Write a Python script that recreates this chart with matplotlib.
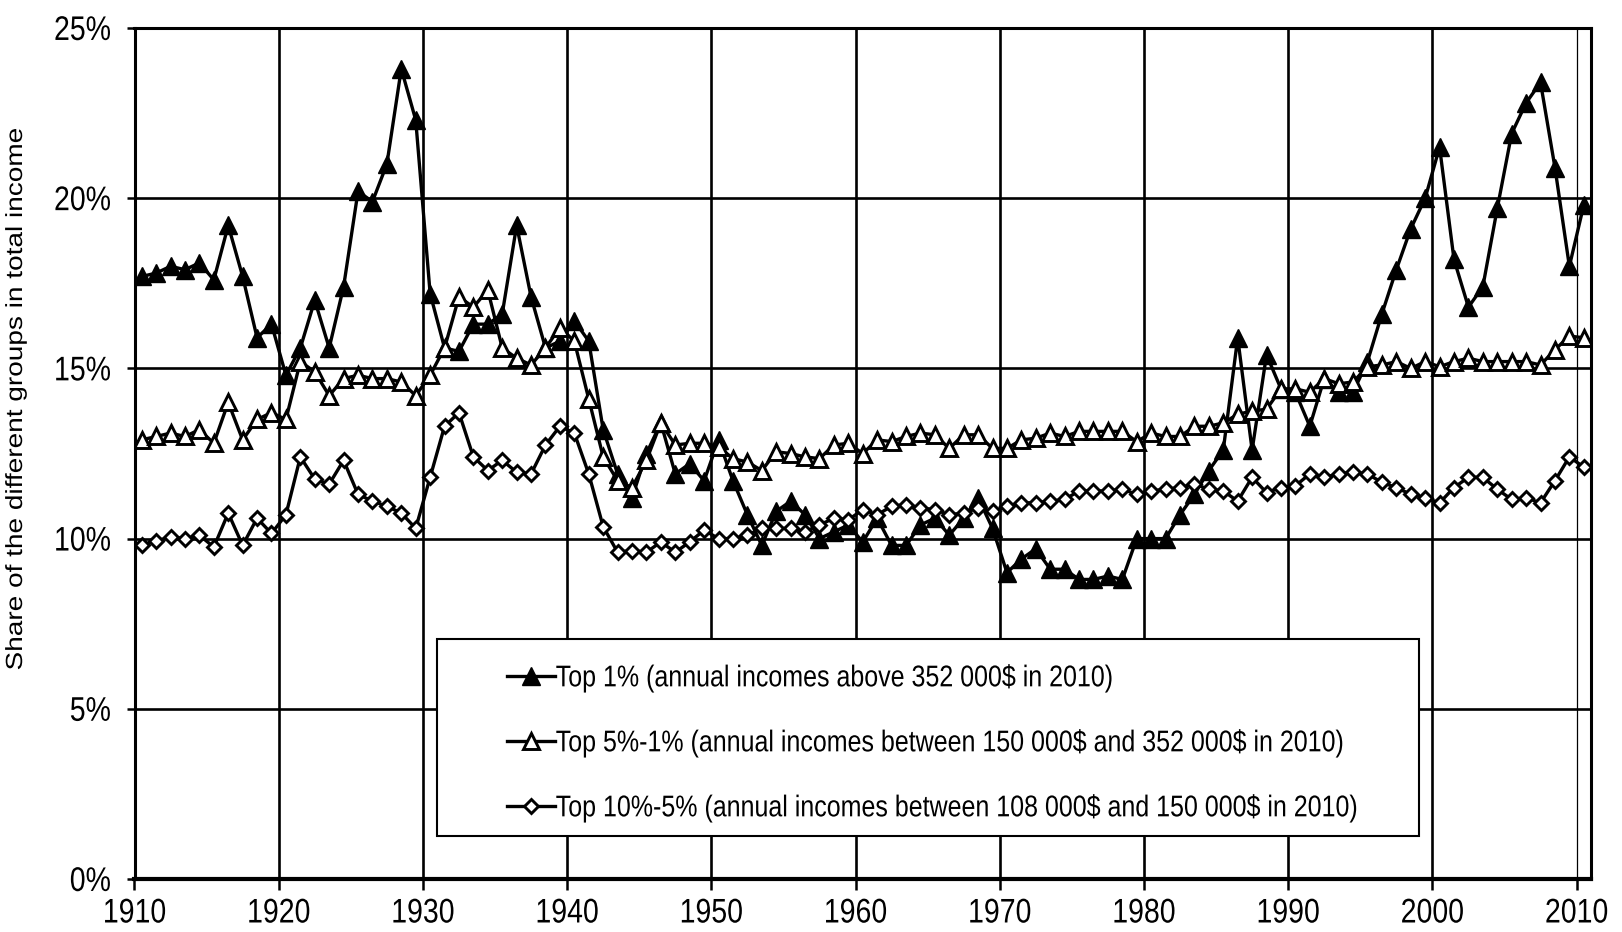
import matplotlib
matplotlib.use("Agg")
import matplotlib.pyplot as plt
from matplotlib.patches import Rectangle
from matplotlib.patheffects import AbstractPathEffect
from matplotlib.transforms import Affine2D
import numpy as np

years = list(range(1910, 2011))

top1 = [17.7, 17.8, 18.0, 17.9, 18.1, 17.6, 19.2, 17.7, 15.9, 16.3,
        14.8, 15.6, 17.0, 15.6, 17.4, 20.2, 19.9, 21.0, 23.8, 22.3,
        17.2, 15.6, 15.5, 16.3, 16.3, 16.6, 19.2, 17.1, 15.6, 15.8,
        16.4, 15.8, 13.2, 11.9, 11.2, 12.5, 13.4, 11.9, 12.2, 11.7,
        12.9, 11.7, 10.7, 9.8, 10.8, 11.1, 10.7, 10.0, 10.2, 10.4,
        9.9, 10.6, 9.8, 9.8, 10.4, 10.6, 10.1, 10.6, 11.2, 10.3,
        9.0, 9.4, 9.7, 9.1, 9.1, 8.8, 8.8, 8.9, 8.8, 10.0,
        10.0, 10.0, 10.7, 11.3, 12.0, 12.6, 15.9, 12.6, 15.4, 14.4,
        14.3, 13.3, 14.7, 14.3, 14.3, 15.2, 16.6, 17.9, 19.1, 20.0,
        21.5, 18.2, 16.8, 17.4, 19.7, 21.9, 22.8, 23.4, 20.9, 18.0,
        19.8]

top5_1 = [12.9, 13.0, 13.1, 13.0, 13.2, 12.8, 14.0, 12.9, 13.5, 13.7,
          13.5, 15.2, 14.9, 14.2, 14.7, 14.8, 14.7, 14.7, 14.6, 14.2,
          14.8, 15.6, 17.1, 16.8, 17.3, 15.6, 15.3, 15.1, 15.6, 16.2,
          15.8, 14.1, 12.4, 11.7, 11.5, 12.3, 13.4, 12.75, 12.8, 12.8,
          12.7, 12.35, 12.25, 12.0, 12.55, 12.5, 12.4, 12.35, 12.75, 12.8,
          12.5, 12.9, 12.85, 13.0, 13.1, 13.05, 12.65, 13.05, 13.05, 12.65,
          12.65, 12.9, 12.95, 13.1, 13.0, 13.15, 13.15, 13.15, 13.15, 12.85,
          13.1, 13.0, 13.0, 13.3, 13.3, 13.4, 13.65, 13.75, 13.8, 14.4,
          14.4, 14.3, 14.7, 14.55, 14.6, 15.05, 15.1, 15.2, 15.0, 15.2,
          15.05, 15.2, 15.3, 15.2, 15.2, 15.2, 15.2, 15.1, 15.55, 15.95,
          15.9]

top10_5 = [9.8, 9.93, 10.05, 10.0, 10.1, 9.75, 10.75, 9.8, 10.6, 10.15,
           10.7, 12.4, 11.75, 11.6, 12.3, 11.3, 11.1, 10.95, 10.75, 10.3,
           11.8, 13.3, 13.7, 12.4, 12.0, 12.3, 11.95, 11.9, 12.75, 13.3,
           13.1, 11.9, 10.35, 9.6, 9.65, 9.6, 9.9, 9.6, 9.9, 10.25,
           10.0, 10.0, 10.1, 10.3, 10.3, 10.3, 10.2, 10.4, 10.6, 10.55,
           10.85, 10.7, 10.95, 11.0, 10.9, 10.85, 10.7, 10.75, 10.9, 10.8,
           10.95, 11.05, 11.05, 11.1, 11.15, 11.4, 11.4, 11.4, 11.45, 11.3,
           11.4, 11.45, 11.5, 11.6, 11.45, 11.4, 11.1, 11.8, 11.35, 11.5,
           11.55, 11.9, 11.8, 11.9, 11.95, 11.9, 11.65, 11.5, 11.3, 11.2,
           11.05, 11.5, 11.8, 11.8, 11.45, 11.15, 11.2, 11.05, 11.7, 12.4,
           12.1]

labels = ["Top 1% (annual incomes above 352 000\\$ in 2010)",
          "Top 5%-1% (annual incomes between 150 000\\$ and 352 000\\$ in 2010)",
          "Top 10%-5% (annual incomes between 108 000\\$ and 150 000\\$ in 2010)"]
ylabel = "Share of the different groups in total income"
xticks = list(range(1910, 2011, 10))
yticks = [0, 5, 10, 15, 20, 25]

FONT = ['Liberation Sans', 'DejaVu Sans']


class VStretch(AbstractPathEffect):
    """Stretch rendered glyphs vertically (display y) about their centre."""

    def __init__(self, s):
        super().__init__()
        self.s = s

    def draw_path(self, renderer, gc, tpath, affine, rgbFace=None):
        ext = tpath.get_extents(affine)
        cy = 0.5 * (ext.y0 + ext.y1)
        a = affine + Affine2D().translate(0, -cy).scale(1, self.s).translate(0, cy)
        renderer.draw_path(gc, tpath, a, rgbFace)


W, H = 1622, 932
fig = plt.figure(figsize=(W / 100, H / 100), dpi=100)
L, R, T, B = 134.5, 1591, 28, 879
ax = fig.add_axes([L / W, 1 - B / H, (R - L) / W, (B - T) / H])

# categories are centred in their yearly slot (category axis)
xs = np.array(years) + 0.5

lw = 2.4
ax.plot(xs, top1, color='black', lw=lw, marker='^', ms=12.5, mfc='black',
        mec='black', mew=1.0, label=labels[0], zorder=3)
ax.plot(xs, top5_1, color='black', lw=lw, marker='^', ms=11, mfc='white',
        mec='black', mew=2.1, label=labels[1], zorder=4)
ax.plot(xs, top10_5, color='black', lw=lw, marker='D', ms=7.5, mfc='white',
        mec='black', mew=2.1, label=labels[2], zorder=5)

ax.set_xlim(1910, 2011)
ax.set_ylim(0, 25)
ax.set_xticks(xticks)
ax.set_yticks(yticks)
ax.set_yticklabels([f"{v}%" for v in yticks])
ax.grid(True, color='black', lw=1.9, zorder=1)
ax.set_axisbelow(True)
gl = ax.xaxis.get_gridlines()
gl[-1].set_linewidth(0.9)
for s in ax.spines.values():
    s.set_linewidth(2.2)
    s.set_zorder(6)
ax.spines['bottom'].set_linewidth(3.0)
ax.tick_params(axis='y', direction='out', length=6, width=1.8, pad=11,
               labelsize=20.5)
ax.tick_params(axis='x', direction='out', length=8, width=1.8, pad=7.5,
               labelsize=20.5)
st = VStretch(1.2)
for lab in ax.get_xticklabels() + ax.get_yticklabels():
    lab.set_family(FONT)
    lab.set_path_effects([st])

# legend box
x0 = (436.5 - L) / (R - L)
x1 = (1419 - L) / (R - L)
y0 = (B - 836) / (B - T)
y1 = (B - 639) / (B - T)
ax.add_patch(Rectangle((x0, y0), x1 - x0, y1 - y0, transform=ax.transAxes,
                       facecolor='white', edgecolor='black', lw=1.5, zorder=7))
leg = ax.legend(loc='upper left', bbox_to_anchor=(507 / W, 1 - 666 / H),
                bbox_transform=fig.transFigure, frameon=False, borderpad=0,
                borderaxespad=0, handlelength=1.9, handletextpad=0.05,
                labelspacing=1.64, prop={'family': FONT, 'size': 18})
leg.set_zorder(8)
for t in leg.get_texts():
    t.set_path_effects([st])

fig.text(15.5 / W, 1 - 398 / H, ylabel, rotation=90, ha='center', va='center',
         family=FONT, fontsize=16.8, path_effects=[VStretch(1.2)])

fig.savefig('out.png', dpi=100)
